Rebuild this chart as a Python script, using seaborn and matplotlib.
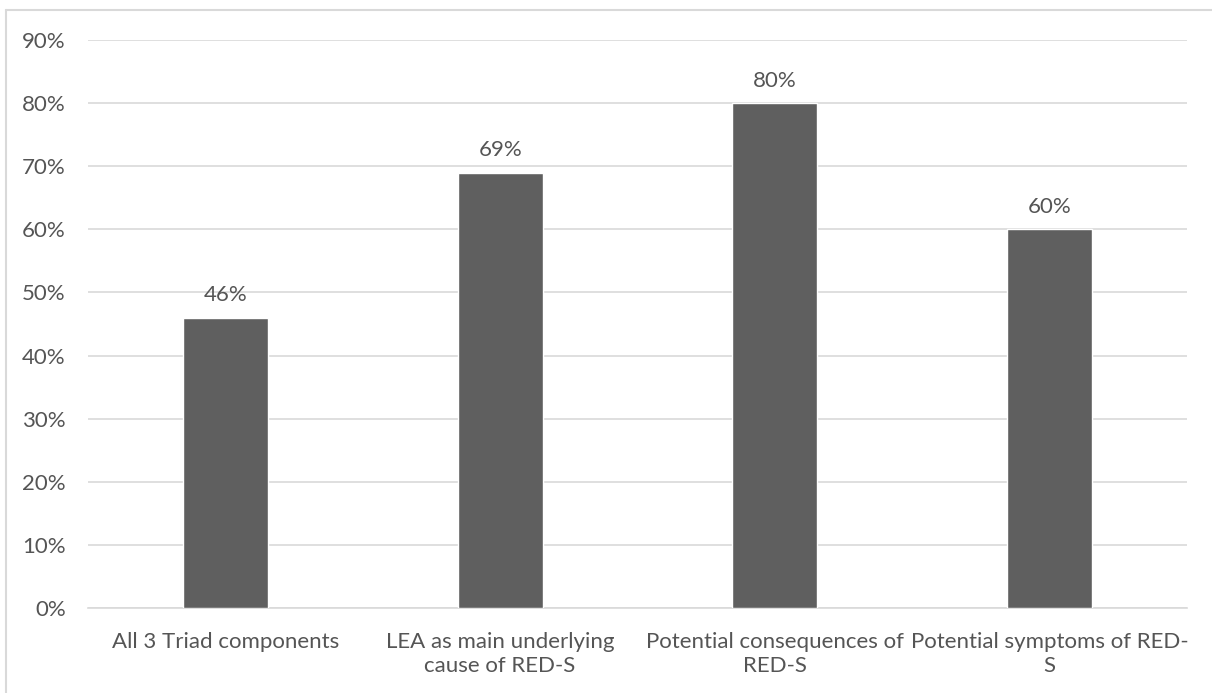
import matplotlib
matplotlib.use("Agg")
import matplotlib.pyplot as plt
import seaborn as sns
import pandas as pd
from matplotlib.lines import Line2D
from matplotlib.ticker import FuncFormatter

categories = [
    "All 3 Triad components",
    "LEA as main underlying\ncause of RED-S",
    "Potential consequences of\nRED-S",
    "Potential symptoms of RED-\nS",
]
values = [46, 69, 80, 60]
y_ticks = [0, 10, 20, 30, 40, 50, 60, 70, 80, 90]

sns.set_theme(style="white")
plt.rcParams["font.family"] = ["Lato", "DejaVu Sans"]

text_color = "#555555"
bar_color = "#5f5f5f"
grid_color = "#d9d9d9"
font_size = 16

df = pd.DataFrame({"category": categories, "value": values})

fig = plt.figure(figsize=(12.12, 6.93), dpi=100)
ax = fig.add_axes([88 / 1212, 1 - 608 / 693, (1187 - 88) / 1212, (608 - 40) / 693])

sns.barplot(data=df, x="category", y="value", color=bar_color, width=0.31,
            saturation=1, ax=ax, zorder=3)

ax.set_ylim(0, 90)
ax.set_yticks(y_ticks)
ax.yaxis.set_major_formatter(FuncFormatter(lambda v, _: f"{v:.0f}%"))
ax.grid(axis="y", color=grid_color, linewidth=1.2, zorder=0)
ax.set_axisbelow(True)
for side in ["top", "right", "left"]:
    ax.spines[side].set_visible(False)
ax.spines["bottom"].set_color(grid_color)
ax.spines["bottom"].set_linewidth(1.2)
ax.set_xlabel("")
ax.set_ylabel("")
ax.tick_params(axis="y", length=0, pad=16, labelsize=font_size, labelcolor=text_color)
ax.tick_params(axis="x", length=0, pad=17, labelsize=font_size, labelcolor=text_color)
for lbl in ax.get_xticklabels():
    lbl.set_linespacing(1.3)

for container in ax.containers:
    ax.bar_label(container, labels=[f"{v}%" for v in values], padding=9,
                 fontsize=font_size, color=text_color)

# chart frame
fig.add_artist(Line2D([6 / 1212, 6 / 1212], [0, 1 - 10 / 693], color=grid_color,
                      linewidth=1.5, transform=fig.transFigure))
fig.add_artist(Line2D([6 / 1212, 1], [1 - 10 / 693, 1 - 10 / 693], color=grid_color,
                      linewidth=1.5, transform=fig.transFigure))

fig.savefig("out.png", dpi=100, facecolor="white")
